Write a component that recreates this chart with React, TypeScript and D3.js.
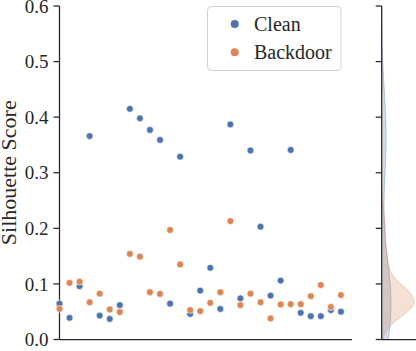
import * as d3 from "d3";

// index of each run along the x axis (no tick labels shown)
const runs = d3.range(29);

const clean = [
  0.0645, 0.039, 0.096, 0.366, 0.043, 0.037, 0.062, 0.415, 0.398, 0.377,
  0.359, 0.0645, 0.329, 0.046, 0.088, 0.129, 0.055, 0.387, 0.074, 0.34,
  0.203, 0.079, 0.106, 0.341, 0.048, 0.042, 0.042, 0.053, 0.05,
];

const backdoor = [
  0.055, 0.102, 0.104, 0.067, 0.0825, 0.054, 0.0495, 0.154, 0.149, 0.085,
  0.082, 0.197, 0.135, 0.053, 0.051, 0.066, 0.085, 0.213, 0.062, 0.0825,
  0.067, 0.038, 0.063, 0.0635, 0.0635, 0.078, 0.098, 0.0585, 0.08,
];

const yTicks = [0, 0.1, 0.2, 0.3, 0.4, 0.5, 0.6];

const series = [
  { name: "Clean", values: clean, color: "#4C72B0" },
  { name: "Backdoor", values: backdoor, color: "#DD8452" },
];

const font = "'Liberation Serif', 'Times New Roman', serif";
const ink = "#262626";

// scipy-style gaussian kde with scott bandwidth
function kde(values: number[]) {
  const n = values.length;
  const bw = Math.pow(n, -1 / 5) * (d3.deviation(values) as number);
  const lo = (d3.min(values) as number) - 3 * bw;
  const hi = (d3.max(values) as number) + 3 * bw;
  const grid = d3.range(200).map((i) => lo + ((hi - lo) * i) / 199);
  return grid.map((g) => {
    const s = d3.sum(values, (v) => Math.exp(-0.5 * ((g - v) / bw) ** 2));
    return [g, s / (n * bw * Math.sqrt(2 * Math.PI))] as [number, number];
  });
}

export default function App() {
  const width = 416;
  const height = 351;
  const main = { left: 59.5, right: 352 };
  const margLeft = 381.7;

  const y = d3.scaleLinear().domain([0, 0.6]).range([339.5, 6]);
  const x = d3.scaleLinear().domain([0, 29.1]).range([main.left, main.right]);

  const densities = series.map((s) => ({ ...s, curve: kde(s.values) }));
  const maxDens = d3.max(densities, (s) => d3.max(s.curve, (c) => c[1])) as number;
  const xd = d3.scaleLinear().domain([0, maxDens]).range([margLeft, 414]);

  const area = d3
    .area<[number, number]>()
    .y((d) => y(d[0]))
    .x0(margLeft)
    .x1((d) => xd(d[1]))
    .curve(d3.curveLinear);
  const line = d3
    .line<[number, number]>()
    .y((d) => y(d[0]))
    .x((d) => xd(d[1]));

  return (
    <svg
      width={width}
      height={height}
      style={{ position: "absolute", left: 0, top: 0, background: "#fff" }}
      fontFamily={font}
    >
      <defs>
        <clipPath id="margClip">
          <rect x={margLeft} y={y(0.6)} width={60} height={y(0) - y(0.6)} />
        </clipPath>
      </defs>

      {/* y axis label */}
      <text
        transform={`translate(16,${(y(0) + y(0.6)) / 2}) rotate(-90)`}
        textAnchor="middle"
        fontSize={22}
        fill={ink}
      >
        Silhouette Score
      </text>

      {/* main y axis */}
      {yTicks.map((t) => (
        <g key={t}>
          <line x1={main.left - 6} x2={main.left} y1={y(t)} y2={y(t)} stroke={ink} strokeWidth={1.25} />
          <text x={main.left - 11} y={y(t)} dy="0.35em" textAnchor="end" fontSize={19} fill={ink}>
            {t.toFixed(1)}
          </text>
        </g>
      ))}
      <line x1={main.left} x2={main.left} y1={y(0.6)} y2={y(0)} stroke={ink} strokeWidth={1.25} />
      <line x1={main.left} x2={main.right} y1={y(0)} y2={y(0)} stroke={ink} strokeWidth={1.25} />

      {/* points */}
      {series.map((s) => (
        <g key={s.name}>
          {s.values.map((v, i) => (
            <circle key={i} cx={x(runs[i])} cy={y(v)} r={3.4} fill={s.color} stroke="#fff" strokeWidth={0.6} />
          ))}
        </g>
      ))}

      {/* legend */}
      <rect x={207.5} y={6.5} width={133.5} height={64} rx={4} fill="#fff" fillOpacity={0.8} stroke="#d0d0d0" />
      {series.map((s, i) => (
        <g key={s.name} transform={`translate(0,${i * 28.3})`}>
          <circle cx={234.7} cy={24} r={4} fill={s.color} />
          <text x={254} y={30.5} fontSize={20} fill={ink}>
            {s.name}
          </text>
        </g>
      ))}

      {/* marginal kde */}
      <g clipPath="url(#margClip)">
        {densities.map((s) => (
          <g key={s.name}>
            <path d={area(s.curve) as string} fill={s.color} fillOpacity={0.25} />
            <path d={line(s.curve) as string} fill="none" stroke={s.color} strokeOpacity={0.35} strokeWidth={1} />
          </g>
        ))}
      </g>
      {yTicks.map((t) => (
        <line key={t} x1={margLeft - 6} x2={margLeft} y1={y(t)} y2={y(t)} stroke={ink} strokeWidth={1.25} />
      ))}
      <line x1={margLeft} x2={margLeft} y1={y(0.6)} y2={y(0)} stroke={ink} strokeWidth={1.25} />
      <line x1={margLeft} x2={width} y1={y(0)} y2={y(0)} stroke={ink} strokeWidth={1.25} />
    </svg>
  );
}
